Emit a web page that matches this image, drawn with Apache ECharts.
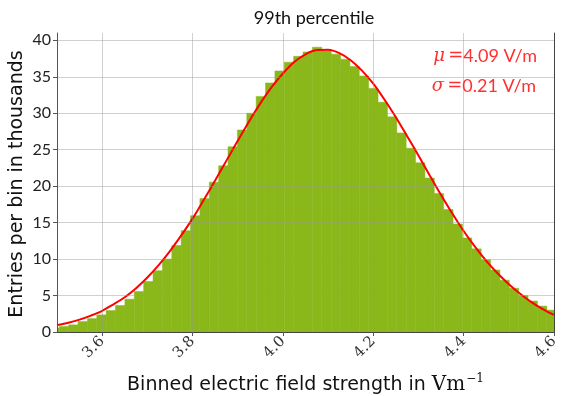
<!DOCTYPE html>
<html>
<head>
<meta charset="utf-8">
<script src="https://cdn.jsdelivr.net/npm/echarts@6/dist/echarts.min.js"></script>
<style>html,body{margin:0;padding:0;background:#fff;}#c{width:564px;height:396px;}</style>
</head>
<body>
<div id="c"></div>
<script>
// ---- data ----
const binStart = 3.4843;      // left edge of first bin (V/m)
const binWidth = 0.02075;     // bin width (V/m)
const binCounts = [0.55, 0.75, 0.98, 1.43, 1.84, 2.35, 2.94, 3.63, 4.5, 5.55, 6.93,
  8.4, 10.0, 11.85, 13.9, 15.95, 18.3, 20.55, 22.8, 25.4, 27.7,
  30.0, 32.3, 34.15, 35.8, 37.0, 37.8, 38.4, 39.05, 38.55, 38.1,
  37.4, 36.4, 35.1, 33.4, 31.5, 29.5, 27.3, 25.2, 23.2, 21.1,
  19.0, 16.8, 14.8, 12.9, 11.4, 9.9, 8.5, 7.1, 6.0, 5.0,
  4.25, 3.55, 3.0];
const fitX = [3.500, 3.525, 3.550, 3.575, 3.600, 3.625, 3.650, 3.675, 3.700, 3.725,
  3.750, 3.775, 3.800, 3.825, 3.850, 3.875, 3.900, 3.925, 3.950, 3.975,
  4.000, 4.025, 4.050, 4.075, 4.100, 4.125, 4.150, 4.175, 4.200, 4.225,
  4.250, 4.275, 4.300, 4.325, 4.350, 4.375, 4.400, 4.425, 4.450, 4.475,
  4.500, 4.525, 4.550, 4.575, 4.600];
const fitY = [0.95, 1.28, 1.70, 2.25, 2.90, 3.80, 4.77, 6.01, 7.48, 9.17,
  11.10, 13.25, 15.55, 18.13, 20.78, 23.50, 26.22, 28.87, 31.35, 33.58,
  35.45, 37.02, 38.08, 38.66, 38.71, 38.24, 37.27, 35.84, 34.05, 31.85,
  29.45, 26.85, 24.20, 21.45, 18.80, 16.25, 13.85, 11.70, 9.75, 8.05,
  6.55, 5.25, 4.10, 3.15, 2.35];
const xTicks = [3.6, 3.8, 4.0, 4.2, 4.4, 4.6];
const xGrid = [3.6, 3.8, 4.0, 4.2, 4.4];
const yGrid = [5, 10, 15, 20, 25, 30, 35, 40];
const titleText = '99th percentile';
const yTitle = 'Entries per bin in thousands';
const muText = '4.09 V/m';
const sigmaText = '0.21 V/m';

// ---- build ----
const barData = binCounts.map((c, i) => [binStart + i * binWidth, binStart + (i + 1) * binWidth, c]);
const fitData = fitX.map((x, i) => [x, fitY[i]]);
const barColor = '#8ab71a';
const gridColor = 'rgba(150,150,150,0.45)';
const sans = 'Lato, "DejaVu Sans", sans-serif';
const wide = '"DejaVu Sans", sans-serif';
const serif = '"DejaVu Serif", "Liberation Serif", serif';

const chart = echarts.init(document.getElementById('c'), null, {renderer: 'canvas'});
chart.setOption({
  animation: false,
  backgroundColor: '#fff',
  title: {
    text: titleText, left: 309, top: 4, textAlign: 'center',
    textStyle: {fontFamily: sans, fontSize: 18, fontWeight: 'normal', color: '#111'}
  },
  grid: {left: 57, right: 10, top: 33, bottom: 64, containLabel: false, outerBoundsMode: 'none'},
  xAxis: [{
    type: 'value', min: 3.5, max: 4.6, z: 10,
    axisLine: {show: true, onZero: false, lineStyle: {color: '#555', width: 1}},
    axisTick: {show: true, customValues: xTicks, length: 4, lineStyle: {color: '#555'}},
    axisLabel: {customValues: xTicks, rotate: 45, margin: 7, formatter: v => Number(v).toFixed(1),
      fontFamily: serif, fontSize: 15, color: '#333'},
    splitLine: {show: false},
    name: '{a|Binned electric field strength in }{b|Vm}{c|−1}',
    nameLocation: 'middle', nameGap: 41,
    nameTextStyle: {
      rich: {
        a: {fontFamily: wide, fontSize: 19, color: '#111'},
        b: {fontFamily: serif, fontSize: 20, color: '#111'},
        c: {fontFamily: serif, fontSize: 12, color: '#111', padding: [0, 0, 12, 1]}
      }
    }
  }, {
    type: 'value', min: 3.5, max: 4.6, position: 'top', z: 10,
    axisLine: {show: true, lineStyle: {color: '#444', width: 1}},
    axisTick: {show: false}, axisLabel: {show: false}, splitLine: {show: false}
  }],
  yAxis: [{
    type: 'value', min: 0, max: 41, interval: 5, z: 10,
    axisLine: {show: true, lineStyle: {color: '#555', width: 1}},
    axisTick: {show: true, length: 4, lineStyle: {color: '#555'}},
    axisLabel: {showMaxLabel: false, margin: 6, fontFamily: sans, fontSize: 16, color: '#222',
      formatter: v => (v % 5 === 0 ? String(v) : '')},
    splitLine: {show: false}
  }, {
    type: 'value', min: 0, max: 41, position: 'right', z: 10,
    axisLine: {show: true, lineStyle: {color: '#444', width: 1}},
    axisTick: {show: false}, axisLabel: {show: false}, splitLine: {show: false}
  }],
  series: [{
    type: 'custom', z: 2, clip: true,
    encode: {x: [0, 1], y: 2},
    data: barData,
    renderItem: function (params, api) {
      const p0 = api.coord([api.value(0), api.value(2)]);
      const p1 = api.coord([api.value(1), 0]);
      return {
        type: 'rect',
        shape: {x: p0[0], y: p0[1], width: p1[0] - p0[0], height: p1[1] - p0[1]},
        style: {fill: barColor, stroke: barColor, lineWidth: 0.5}
      };
    }
  }, {
    type: 'line', z: 3, data: [], silent: true,
    markLine: {
      silent: true, symbol: 'none', label: {show: false},
      lineStyle: {color: gridColor, type: 'solid', width: 1},
      data: xGrid.map(v => ({xAxis: v})).concat(yGrid.map(v => ({yAxis: v})))
    }
  }, {
    type: 'line', z: 4, data: fitData, smooth: 0.3, symbol: 'none', clip: true,
    lineStyle: {color: '#ff0000', width: 2}
  }],
  graphic: [{
    type: 'text', x: 17, y: 184, rotation: Math.PI / 2, z: 20,
    style: {text: yTitle, fontFamily: wide, fontSize: 19, fill: '#111',
      align: 'center', verticalAlign: 'middle'}
  }, {
    type: 'text', right: 27, top: 47, z: 20,
    style: {
      text: '{m|μ} {e|=}{t|' + muText + '}',
      rich: {
        m: {fontFamily: serif, fontStyle: 'italic', fontSize: 18, fill: '#ff3030'},
        e: {fontFamily: serif, fontSize: 18, fill: '#ff3030'},
        t: {fontFamily: sans, fontSize: 18, fill: '#ff3030'}
      }
    }
  }, {
    type: 'text', right: 28, top: 77, z: 20,
    style: {
      text: '{m|σ} {e|=}{t|' + sigmaText + '}',
      rich: {
        m: {fontFamily: serif, fontStyle: 'italic', fontSize: 18, fill: '#ff3030'},
        e: {fontFamily: serif, fontSize: 18, fill: '#ff3030'},
        t: {fontFamily: sans, fontSize: 18, fill: '#ff3030'}
      }
    }
  }]
});
</script>
</body>
</html>
